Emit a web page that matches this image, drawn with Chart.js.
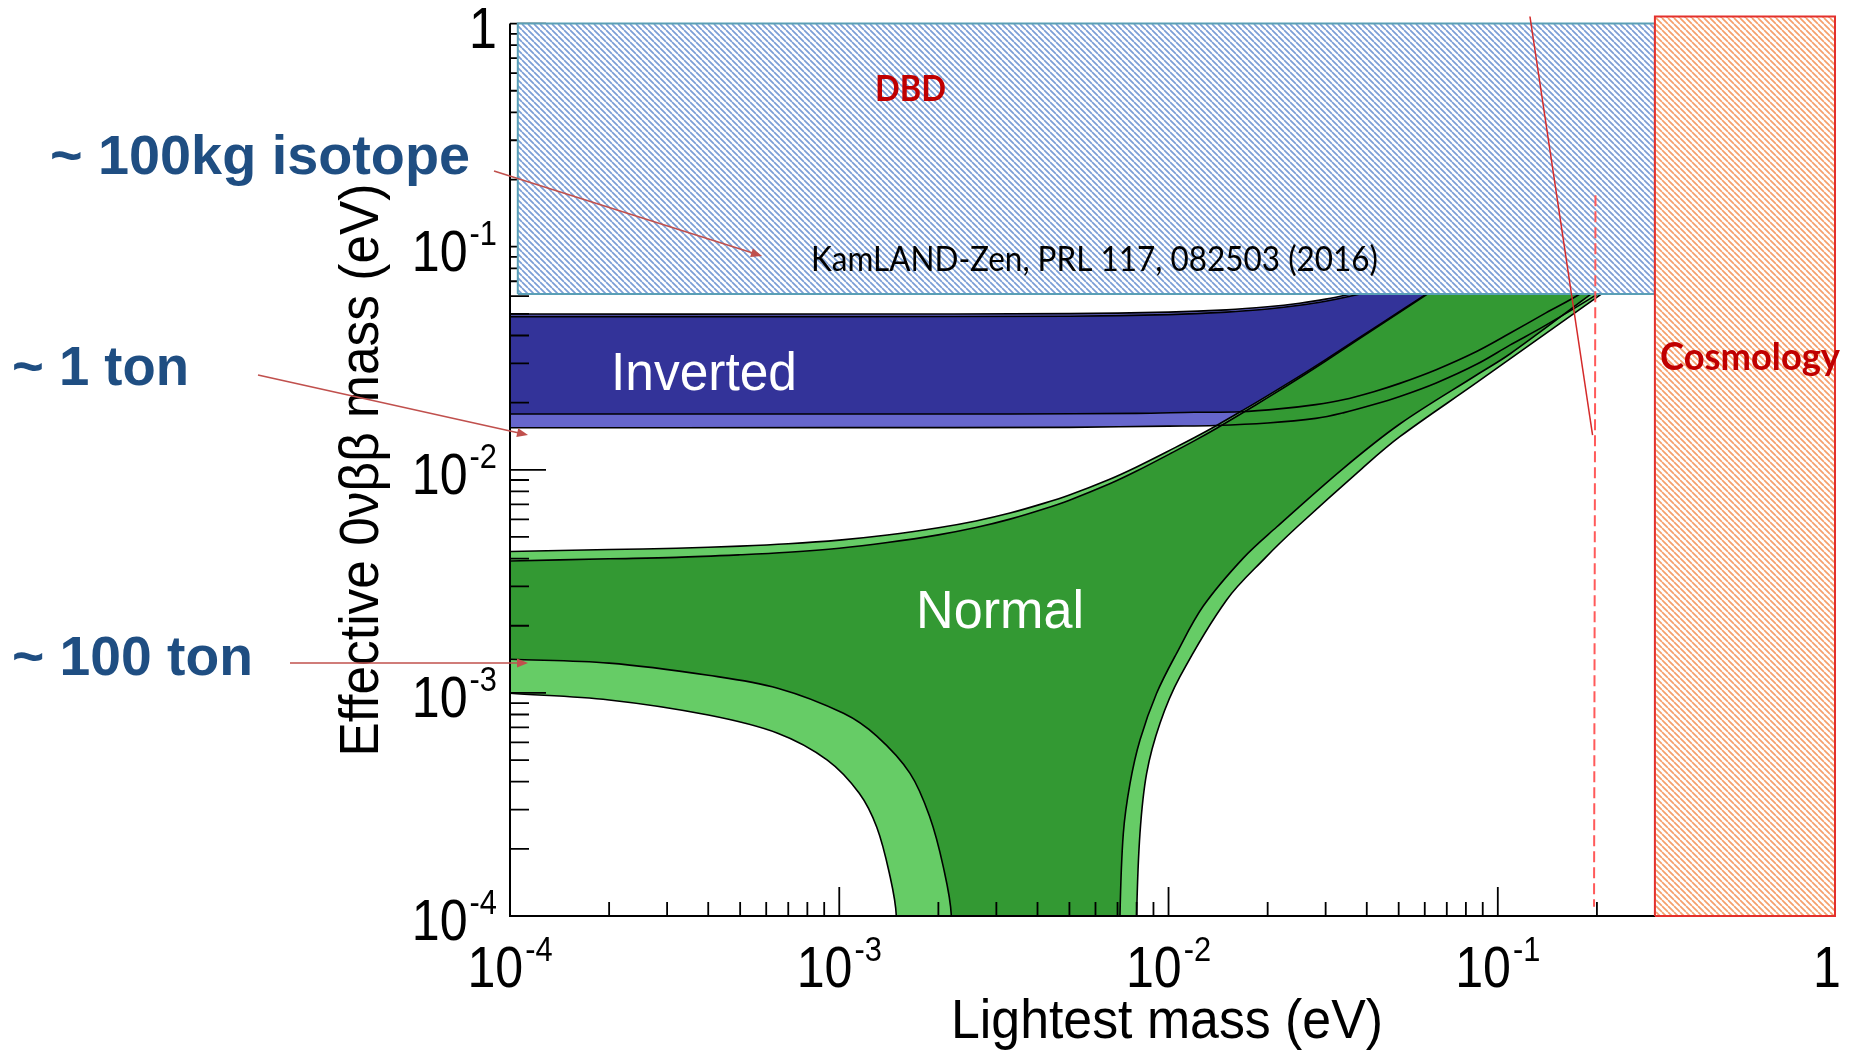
<!DOCTYPE html>
<html>
<head>
<meta charset="utf-8">
<title>Effective 0vbb mass vs lightest mass</title>
<script src="https://cdn.jsdelivr.net/npm/chart.js@4.4.1/dist/chart.umd.min.js"></script>
<style>
  html, body { margin: 0; padding: 0; background: #fff; overflow: hidden; }
  canvas { display: block; }
</style>
</head>
<body>
<canvas id="mbb" width="1853" height="1051"></canvas>
<script>
// lightest mass (eV) -> effective 0vbb mass (eV)

// normal ordering, upper edges (light = 3 sigma, dark = best fit)
const noUpperM = [1e-4, 2e-4, 3.2e-4, 5e-4, 7e-4, 1e-3, 1.4e-3, 2e-3, 2.6e-3, 3.3e-3, 4.2e-3, 5e-3, 6.6e-3, 8e-3, 0.0105, 0.012, 0.014, 0.017, 0.02, 0.025, 0.03, 0.045, 0.06, 0.09];
const noLightUpperV = [0.0043, 0.00439, 0.00445, 0.00455, 0.00466, 0.00484, 0.0051, 0.0055, 0.0059, 0.0064, 0.00709, 0.00771, 0.00905, 0.0103, 0.0126, 0.01395, 0.0158, 0.01865, 0.0215, 0.0263, 0.0312, 0.046, 0.0607, 0.09];
const noDarkUpperV = [0.0039, 0.00399, 0.00405, 0.00416, 0.00427, 0.00445, 0.00472, 0.00511, 0.00551, 0.00601, 0.00669, 0.00731, 0.00863, 0.00987, 0.01216, 0.01351, 0.01536, 0.0182, 0.02106, 0.02585, 0.03075, 0.04555, 0.0603, 0.09];

// normal ordering, lower edge left of the cancellation dip
const noLightLowLM = [1e-4, 2e-4, 4e-4, 6.5e-4, 9.2e-4, 1.15e-3, 1.3e-3, 1.42e-3, 1.49e-3, 1.52e-3];
const noLightLowLV = [9.96e-4, 9.3e-4, 7.96e-4, 6.6e-4, 5.0e-4, 3.55e-4, 2.5e-4, 1.55e-4, 1.0e-4, 1e-5];
const noDarkLowLM = [1e-4, 2e-4, 4e-4, 6.5e-4, 1.03e-3, 1.3e-3, 1.64e-3, 1.88e-3, 2.07e-3, 2.19e-3, 2.25e-3];
const noDarkLowLV = [1.415e-3, 1.36e-3, 1.2e-3, 1.05e-3, 8.1e-4, 6.4e-4, 4.36e-4, 2.8e-4, 1.66e-4, 1.0e-4, 1e-5];

// normal ordering, lower edge right of the dip
const noDarkLowRM = [0.00695, 0.00712, 0.00729, 0.00764, 0.00819, 0.0092, 0.01058, 0.01275, 0.01686, 0.0213, 0.0339, 0.0504, 0.0862, 0.1088, 0.1904, 0.3];
const noDarkLowRV = [1e-5, 1e-4, 2.35e-4, 3.93e-4, 6.15e-4, 9.96e-4, 1.505e-3, 2.45e-3, 4.02e-3, 5.54e-3, 0.01013, 0.01604, 0.0266, 0.03304, 0.0608, 0.1];
const noLightLowRM = [0.0078, 0.0080, 0.00819, 0.00858, 0.00942, 0.01083, 0.01501, 0.01963, 0.02455, 0.03867, 0.0504, 0.0862, 0.2042, 0.3];
const noLightLowRV = [1e-5, 1e-4, 2.35e-4, 4.36e-4, 7.31e-4, 1.182e-3, 2.61e-3, 4.02e-3, 5.54e-3, 0.01013, 0.01407, 0.02457, 0.0607, 0.09];

// inverted ordering
const ihUpperM = [1e-4, 1e-3, 5e-3, 0.01, 0.015, 0.02, 0.025, 0.03, 0.035, 0.04, 0.06];
const ihDarkUpperV = [0.0486, 0.0486, 0.0488, 0.0496, 0.0509, 0.0526, 0.0546, 0.057, 0.0597, 0.0627, 0.077];
const ihLightUpperV = [0.0499, 0.0499, 0.0501, 0.0509, 0.0521, 0.0538, 0.0558, 0.0582, 0.0609, 0.0638, 0.078];
const ihDarkLowM = [1e-4, 1e-3, 3.3e-3, 0.008, 0.012, 0.0165, 0.022, 0.028, 0.0339, 0.042, 0.0504, 0.065, 0.0862, 0.1088, 0.14, 0.1775, 0.25];
const ihDarkLowV = [0.0178, 0.0178, 0.0178, 0.0179, 0.0181, 0.0182, 0.0188, 0.0196, 0.0206, 0.0224, 0.0244, 0.0281, 0.0339, 0.0409, 0.0505, 0.0614, 0.087];
const ihLightLowM = [1e-4, 1e-3, 0.005, 0.01, 0.0139, 0.02, 0.028, 0.0339, 0.042, 0.0504, 0.065, 0.0862, 0.1088, 0.14, 0.1995, 0.28];
const ihLightLowV = [0.01544, 0.01545, 0.0155, 0.0157, 0.0158, 0.0162, 0.0170, 0.0180, 0.0196, 0.0213, 0.0245, 0.0297, 0.0362, 0.0445, 0.061, 0.085];

// excluded regions: [lo, hi]
const dbdBoxM = [1.056e-4, 0.3];
const dbdBoxV = [0.0614, 1];
const cosmoBoxM = [0.3, 1.057];
const cosmoBoxV = [1e-4, 1.076];

// red limit lines
const slantM = [0.1252, 0.194];
const slantV = [1.076, 0.0143];
const dashM = [0.198, 0.196];
const dashV = [0.17, 1.1e-4];

// axis ticks
const xMajor = [1e-4, 1e-3, 1e-2, 1e-1, 1];
const xMajorLabels = ['10^-4', '10^-3', '10^-2', '10^-1', '1'];
const yMajor = [1, 1e-1, 1e-2, 1e-3, 1e-4];
const yMajorLabels = ['1', '10^-1', '10^-2', '10^-3', '10^-4'];
const decades = [1e-4, 1e-3, 1e-2, 1e-1];
const minorSteps = [2, 3, 4, 5, 6, 7, 8, 9];

const TENSION = 0.35;
const ROOT_FONT = '"Liberation Sans", Arial, sans-serif';
const PPT_FONT = 'Lato, "Open Sans", sans-serif';

const ctxMain = document.getElementById('mbb').getContext('2d');

function hatch(color) {
    const tile = document.createElement('canvas');
    tile.width = 6;
    tile.height = 6;
    const g = tile.getContext('2d');
    g.fillStyle = '#ffffff';
    g.fillRect(0, 0, 6, 6);
    g.strokeStyle = color;
    g.lineWidth = 1.7;
    g.beginPath();
    [-6, 0, 6].forEach(k => { g.moveTo(k, 0); g.lineTo(k + 6, 6); });
    g.stroke();
    return ctxMain.createPattern(tile, 'repeat');
}

const pts = (ms, vs) => ms.map((m, i) => ({x: m, y: vs[i]}));
const back = (ms, vs) => pts(ms, vs).reverse();

function area(data, color, order) {
    return {data, order, showLine: true, fill: 'shape', backgroundColor: color,
        borderWidth: 0, pointRadius: 0, tension: TENSION};
}

function contour(ms, vs, order) {
    return {data: pts(ms, vs), order, showLine: true, fill: false, borderColor: '#000',
        borderWidth: 1.6, pointRadius: 0, tension: TENSION};
}

function box(ms, vs, pattern, edge, order) {
    const data = [
        {x: ms[0], y: vs[0]}, {x: ms[1], y: vs[0]}, {x: ms[1], y: vs[1]},
        {x: ms[0], y: vs[1]}, {x: ms[0], y: vs[0]}
    ];
    return {data, order, showLine: true, fill: 'shape', backgroundColor: pattern,
        borderColor: edge, borderWidth: 2, pointRadius: 0, tension: 0, clip: false};
}

const datasets = [
    area(pts(ihUpperM, ihLightUpperV).concat(back(ihLightLowM, ihLightLowV)), '#6666cc', 100),
    area(pts(ihUpperM, ihDarkUpperV).concat(back(ihDarkLowM, ihDarkLowV)), '#333399', 99),
    area(pts(noUpperM, noLightUpperV).concat(back(noLightLowRM, noLightLowRV), back(noLightLowLM, noLightLowLV)), '#66cc66', 98),
    area(pts(noUpperM, noDarkUpperV).concat(back(noDarkLowRM, noDarkLowRV), back(noDarkLowLM, noDarkLowLV)), '#339933', 97),
    contour(noUpperM, noLightUpperV, 90),
    contour(noUpperM, noDarkUpperV, 89),
    contour(noLightLowLM, noLightLowLV, 88),
    contour(noDarkLowLM, noDarkLowLV, 87),
    contour(noLightLowRM, noLightLowRV, 86),
    contour(noDarkLowRM, noDarkLowRV, 85),
    contour(ihUpperM, ihLightUpperV, 84),
    contour(ihUpperM, ihDarkUpperV, 83),
    contour(ihLightLowM, ihLightLowV, 82),
    Object.assign(contour(ihDarkLowM, ihDarkLowV, 81), {ticksAfter: true}),
    box(dbdBoxM, dbdBoxV, hatch('#7b9ed6'), '#5a9fb6', 50),
    box(cosmoBoxM, cosmoBoxV, hatch('#f5a06c'), '#e3302c', 40),
    {data: pts(slantM, slantV), order: 20, showLine: true, fill: false, borderColor: '#d42a2a',
        borderWidth: 1.5, pointRadius: 0, clip: false},
    {data: pts(dashM, dashV), order: 10, showLine: true, fill: false, borderColor: '#ff5a5a',
        borderWidth: 2, borderDash: [11, 5], pointRadius: 0, clip: false}
];

function put(ctx, s, left, baseline, font, sx, color) {
    ctx.save();
    ctx.font = font;
    ctx.fillStyle = color || '#000';
    ctx.textAlign = 'left';
    ctx.textBaseline = 'alphabetic';
    ctx.translate(left, baseline);
    ctx.scale(sx, 1);
    ctx.fillText(s, 0, 0);
    ctx.restore();
}

function fitText(ctx, s, left, baseline, font, width, color) {
    ctx.font = font;
    put(ctx, s, left, baseline, font, width / ctx.measureText(s).width, color);
}

const TICK_FONT = '57px ' + ROOT_FONT;
const SUP_FONT = '35px ' + ROOT_FONT;
const TICK_SX = 0.88;

function powerLabel(ctx, label, x, baseline, align) {
    const [base, exp] = label.split('^');
    ctx.font = TICK_FONT;
    const wb = ctx.measureText(base).width * TICK_SX;
    let we = 0;
    if (exp) {
        ctx.font = SUP_FONT;
        we = ctx.measureText(exp).width * TICK_SX + 2;
    }
    const left = align === 'center' ? x - (wb + we) / 2 : x - (wb + we);
    put(ctx, base, left, baseline, TICK_FONT, TICK_SX);
    if (exp) put(ctx, exp, left + wb + 2, baseline - 26, SUP_FONT, TICK_SX);
}

function arrow(ctx, x1, y1, x2, y2) {
    const a = Math.atan2(y2 - y1, x2 - x1);
    ctx.save();
    ctx.strokeStyle = '#c0504d';
    ctx.fillStyle = '#c0504d';
    ctx.lineWidth = 1.6;
    ctx.beginPath();
    ctx.moveTo(x1, y1);
    ctx.lineTo(x2 - 8 * Math.cos(a), y2 - 8 * Math.sin(a));
    ctx.stroke();
    ctx.translate(x2, y2);
    ctx.rotate(a);
    ctx.beginPath();
    ctx.moveTo(0, 0);
    ctx.lineTo(-11, -4.5);
    ctx.lineTo(-11, 4.5);
    ctx.closePath();
    ctx.fill();
    ctx.restore();
}

function drawAxes(chart) {
    const {ctx, scales: {x, y}} = chart;
    const left = x.getPixelForValue(1e-4);
    const bottom = y.getPixelForValue(1e-4);
    ctx.save();
    ctx.strokeStyle = '#000';
    ctx.lineWidth = 2;
    ctx.beginPath();
    ctx.moveTo(left, y.getPixelForValue(1));
    ctx.lineTo(left, bottom);
    ctx.lineTo(x.getPixelForValue(1), bottom);
    ctx.stroke();

    ctx.lineWidth = 1.8;
    ctx.beginPath();
    xMajor.forEach(v => {
        const px = x.getPixelForValue(v);
        ctx.moveTo(px, bottom);
        ctx.lineTo(px, bottom - 29);
    });
    yMajor.forEach(v => {
        const py = y.getPixelForValue(v);
        ctx.moveTo(left, py);
        ctx.lineTo(left + 36, py);
    });
    decades.forEach(d => minorSteps.forEach(k => {
        const px = x.getPixelForValue(d * k);
        ctx.moveTo(px, bottom);
        ctx.lineTo(px, bottom - 14);
        const py = y.getPixelForValue(d * k);
        ctx.moveTo(left, py);
        ctx.lineTo(left + 19, py);
    }));
    ctx.stroke();
    ctx.restore();
}

function drawLabels(chart) {
    const {ctx, scales: {x, y}} = chart;
    ctx.save();
    ctx.fillStyle = '#000';

    xMajor.forEach((v, i) => powerLabel(ctx, xMajorLabels[i], x.getPixelForValue(v), 987, 'center'));
    yMajor.forEach((v, i) => powerLabel(ctx, yMajorLabels[i], 497, y.getPixelForValue(v) + 24, 'right'));

    fitText(ctx, 'Lightest mass (eV)', 951, 1038, '55px ' + ROOT_FONT, 432);

    const yTitle = 'Effective 0\u03bd\u03b2\u03b2 mass (eV)';
    ctx.save();
    ctx.font = '55px ' + ROOT_FONT;
    const sx = 573 / ctx.measureText(yTitle).width;
    ctx.translate(378, 470);
    ctx.rotate(-Math.PI / 2);
    ctx.scale(sx, 1);
    ctx.textAlign = 'center';
    ctx.textBaseline = 'alphabetic';
    ctx.fillText(yTitle, 0, 0);
    ctx.restore();

    fitText(ctx, 'Inverted', 611, 390, '54px ' + ROOT_FONT, 186, '#ffffff');
    fitText(ctx, 'Normal', 916, 628, '54px ' + ROOT_FONT, 168, '#ffffff');

    fitText(ctx, 'DBD', 875, 101, 'bold 36px ' + PPT_FONT, 71, '#c00000');
    fitText(ctx, 'KamLAND-Zen, PRL 117, 082503 (2016)', 811, 271, '34px ' + PPT_FONT, 567, '#000000');
    fitText(ctx, 'Cosmology', 1660, 370, 'bold 38px ' + PPT_FONT, 180, '#c00000');

    const blue = '#1f4e82';
    fitText(ctx, '~ 100kg isotope', 50, 174, 'bold 56px ' + ROOT_FONT, 420, blue);
    fitText(ctx, '~ 1 ton', 12, 385, 'bold 56px ' + ROOT_FONT, 177, blue);
    fitText(ctx, '~ 100 ton', 12, 675, 'bold 56px ' + ROOT_FONT, 241, blue);

    arrow(ctx, 494, 171, 762, 256);
    arrow(ctx, 258, 375, 528, 435);
    arrow(ctx, 290, 663, 528, 663);
    ctx.restore();
}

const rootStyle = {
    id: 'rootStyle',
    afterDatasetDraw(chart, args) {
        if (chart.data.datasets[args.index].ticksAfter) drawAxes(chart);
    },
    afterDraw(chart) {
        drawLabels(chart);
    }
};

new Chart(ctxMain, {
    type: 'scatter',
    data: {datasets},
    options: {
        responsive: false,
        animation: false,
        devicePixelRatio: 1,
        events: [],
        layout: {padding: {left: 510, right: 18, top: 16.5, bottom: 135}},
        scales: {
            x: {type: 'logarithmic', min: 1e-4, max: 1.057, display: false},
            y: {type: 'logarithmic', min: 1e-4, max: 1.076, display: false}
        },
        plugins: {
            legend: {display: false},
            tooltip: {enabled: false}
        }
    },
    plugins: [rootStyle]
});
</script>
</body>
</html>
